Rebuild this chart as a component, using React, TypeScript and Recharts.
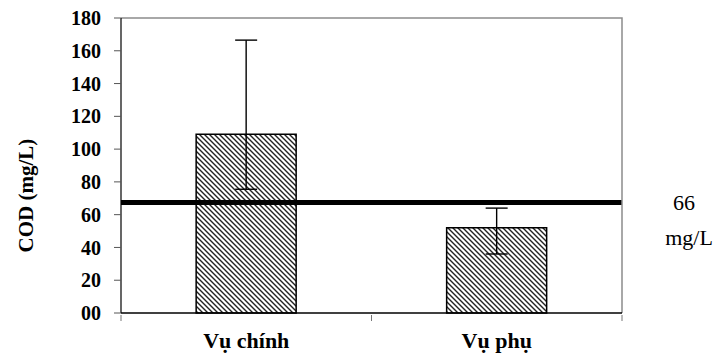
import React from 'react';
import { BarChart, Bar, XAxis, YAxis, ErrorBar, ReferenceLine, Label } from 'recharts';

// COD per season (mg/L), error bars are asymmetric (low / high deltas)
const seasons = ['Vụ chính', 'Vụ phụ'];
const codMean = [109, 52];
const codErrLow = [33.5, 16];
const codErrHigh = [57.5, 12];
const yTicks = [0, 20, 40, 60, 80, 100, 120, 140, 160, 180];
const limitValue = 67.5;
const limitText = ['66', 'mg/L'];

const data = seasons.map((season, i) => ({
  season,
  cod: codMean[i],
  err: [codErrLow[i], codErrHigh[i]],
}));

const serif = 'Liberation Serif';
const chartW = 718;
const chartH = 354;
const marginTop = 18;
const xAxisH = 41;

// category label plus small tick marks on the category boundaries
const SeasonTick = (props: any) => {
  const { x, y, payload, width, visibleTicksCount, index } = props;
  const band = width / visibleTicksCount;
  const last = index === visibleTicksCount - 1;
  return (
    <g>
      <line x1={x - band / 2} y1={y} x2={x - band / 2} y2={y + 6} stroke="#777" />
      {last && <line x1={x + band / 2} y1={y} x2={x + band / 2} y2={y + 6} stroke="#777" />}
      <text
        x={x}
        y={y + 33}
        textAnchor="middle"
        style={{ fontFamily: serif, fontSize: 22, fontWeight: 'bold', fill: '#000' }}
      >
        {payload.value}
      </text>
    </g>
  );
};

// label of the limit line; also draws the grey top/right frame of the plot
const LimitLabel = ({ viewBox }: any) => {
  const left = viewBox.x;
  const right = viewBox.x + viewBox.width;
  const top = marginTop;
  const bottom = chartH - xAxisH;
  return (
    <g>
      <path
        d={`M${left},${top} L${right},${top} L${right},${bottom}`}
        fill="none"
        stroke="#8c8c8c"
        strokeWidth={1.5}
      />
      <g style={{ fontFamily: serif, fontSize: 22, fill: '#000' }}>
        <text x={right + 62} y={210} textAnchor="middle">{limitText[0]}</text>
        <text x={right + 67} y={245} textAnchor="middle">{limitText[1]}</text>
      </g>
    </g>
  );
};

const App: React.FC = () => {
  return (
    <div style={{ position: 'absolute', left: 0, top: 0, width: chartW, height: chartH, background: '#fff', fontFamily: serif }}>
      <BarChart
        width={chartW}
        height={chartH}
        data={data}
        margin={{ top: marginTop, right: 96, bottom: 0, left: 0 }}
        barCategoryGap="30%"
      >
        <defs>
          <pattern id="hatch" patternUnits="userSpaceOnUse" width="5" height="5">
            <rect width="5" height="5" fill="#fff" />
            <path d="M0,0 L5,5 M-1,4 L1,6 M4,-1 L6,1" stroke="#222" strokeWidth="1.4" />
          </pattern>
        </defs>

        <XAxis
          xAxisId="main"
          dataKey="season"
          height={xAxisH}
          tickLine={false}
          tickSize={0}
          axisLine={{ stroke: '#000', strokeWidth: 1.5 }}
          tick={<SeasonTick />}
        />
        <YAxis
          yAxisId="main"
          width={121}
          domain={[0, 180]}
          ticks={yTicks}
          interval={0}
          tickSize={7}
          tickMargin={13}
          tickLine={{ stroke: '#555' }}
          axisLine={{ stroke: '#000', strokeWidth: 1.2 }}
          tickFormatter={(v: number) => (v === 0 ? '00' : String(v))}
          tick={{ fill: '#000', fontSize: 20, fontWeight: 'bold', style: { fontFamily: serif } }}
        >
          <Label
            content={({ viewBox }: any) => {
              const cy = viewBox.y + viewBox.height / 2 + 30;
              return (
                <text
                  x={33}
                  y={cy}
                  transform={`rotate(-90 33 ${cy})`}
                  textAnchor="middle"
                  style={{ fontFamily: serif, fontSize: 21, fontWeight: 'bold', fill: '#000' }}
                >
                  COD (mg/L)
                </text>
              );
            }}
          />
        </YAxis>

        <Bar
          xAxisId="main"
          yAxisId="main"
          dataKey="cod"
          fill="url(#hatch)"
          stroke="#000"
          strokeWidth={1.5}
          isAnimationActive={false}
        >
          <ErrorBar dataKey="err" direction="y" width={11} stroke="#000" strokeWidth={1.4} />
        </Bar>

        <ReferenceLine
          xAxisId="main"
          yAxisId="main"
          y={limitValue}
          stroke="#000"
          strokeWidth={5}
          label={<LimitLabel />}
        />
      </BarChart>
    </div>
  );
};

export default App;
